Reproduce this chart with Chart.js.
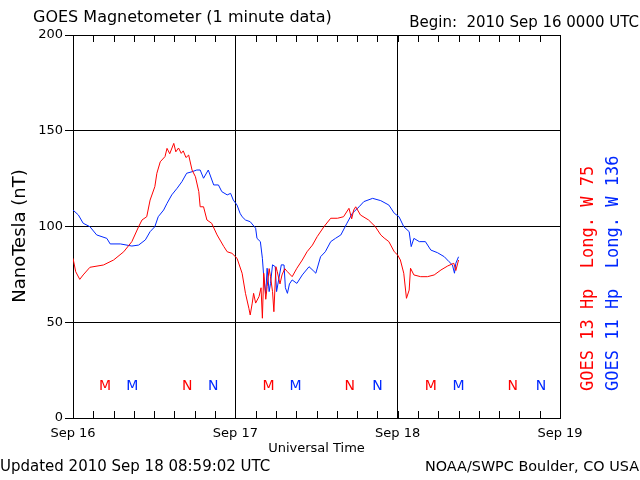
<!DOCTYPE html>
<html>
<head>
<meta charset="utf-8">
<title>GOES Magnetometer</title>
<script src="https://cdn.jsdelivr.net/npm/chart.js@4"></script>
<style>
  html, body { margin: 0; padding: 0; background: #fff; }
  #wrap { width: 640px; height: 480px; }
</style>
</head>
<body>
<div id="wrap"><canvas id="mag" width="640" height="480"></canvas></div>
<script>
// hours since 2010 Sep 16 0000 UTC
const dayLabels = ['Sep 16', 'Sep 17', 'Sep 18', 'Sep 19'];
const yTicks = [0, 50, 100, 150, 200];

const g13Hours = [0, 0.4, 1.0, 1.5, 2.5, 4.5, 6, 7.5, 8.7, 9.7, 10.2, 10.9, 11.4, 12.1, 12.4, 12.9, 13.6, 13.9, 14.3, 14.9,
  15.2, 15.6, 16.0, 16.3, 16.7, 17.1, 17.6, 18.1, 18.6, 18.8, 19.3, 19.8, 20.5, 21.3, 22.3, 22.8, 23.5, 24.25, 25, 25.5,
  26, 26.2, 26.5, 26.7, 27.0, 27.5, 27.8, 28.0, 28.2, 28.5, 28.7, 29.0, 29.2, 29.5, 29.7, 30.0, 30.2, 30.6, 30.9, 31.3,
  31.7, 32.4, 33.1, 33.9, 34.6, 35.4, 36.1, 37.1, 38.1, 39.1, 40, 40.8, 41.2, 41.5, 41.8, 42.5, 43.7, 44.7, 45.5, 46.0,
  46.7, 47.5, 48, 48.4, 48.9, 49.3, 49.7, 49.9, 50.4, 51.4, 52.4, 53.4, 54.4, 55.4, 56.3, 56.6, 57.0];
const g13Values = [83.4, 76.4, 72.4, 74.7, 78.7, 79.9, 82.5, 86.8, 92.1, 99.9, 103.4, 105.1, 113.8, 120.8, 127.8, 133.8, 136.5, 140.8, 138, 143.4,
  139, 141, 138.2, 139.5, 136, 137.3, 129.5, 126.0, 118.2, 110.3, 110.3, 103.4, 101.7, 95.6, 89.5, 86.8, 86.0, 83.4, 75.6, 65.1,
  57.3, 53.8, 60, 65.1, 60, 63.4, 68, 52.1, 75.6, 62, 68.6, 78, 73.8, 66, 55.5, 79, 76.4, 70, 74.7, 78,
  76.4, 73.8, 78.2, 82.5, 86.8, 90.3, 94.7, 99.9, 104.3, 104.3, 105.1, 109.5, 104, 108.6, 110.3, 106.0, 103.4, 99.9, 95.6, 94,
  92.1, 86.8, 85.1, 82.5, 75.6, 62.5, 66.8, 78.2, 74.7, 73.8, 73.8, 74.7, 77.3, 79.4, 80.8, 77, 82.5];

const g11Hours = [0, 0.8, 1.5, 2.5, 3.5, 5, 5.5, 7, 8.7, 9.7, 10.7, 11.4, 12.1, 12.6, 13.4, 13.9, 14.6, 15.4, 16.1, 16.8,
  17.6, 18.3, 18.8, 19.3, 20, 20.8, 21.5, 22, 22.8, 23.3, 23.7, 24.25, 24.7, 25, 25.5, 26.2, 27, 27.2, 27.7, 28,
  28.2, 28.5, 28.7, 29.0, 29.2, 29.5, 29.9, 30.1, 30.4, 30.8, 31.2, 31.4, 31.7, 32, 32.4, 33.1, 33.9, 34.9, 35.5, 35.9,
  36.6, 37.3, 38.1, 38.8, 39.6, 40.5, 41.3, 42.3, 43, 44.3, 45.5, 46.7, 47.5, 48.2, 48.9, 49.7, 50, 50.4, 51.2, 52.1,
  52.9, 53.9, 54.9, 55.6, 56.1, 56.4, 56.6, 57];
const g11Values = [108.6, 106, 101.7, 99.9, 95.6, 93.8, 90.9, 90.9, 89.8, 90.3, 93.0, 97.3, 99.9, 105.1, 108.6, 112.1, 116.5, 120, 123.4, 127.8,
  128.6, 129.5, 129.5, 125.2, 129.5, 121.7, 121.7, 118.2, 116.5, 117.3, 113.8, 111.2, 106.9, 105.1, 103.4, 102.5, 99.1, 93.8, 92.1, 83.4,
  73.8, 65, 78.2, 66, 70.3, 80, 79, 66, 72.1, 80, 79.9, 68, 65.1, 70, 72.1, 70.3, 74.7, 79, 77, 75.6,
  84.2, 86.8, 92.1, 93.8, 95.6, 101.7, 106.9, 110.3, 113, 114.7, 113.5, 111.2, 106.9, 105.1, 99.9, 97.3, 89.5, 93.8, 92.1, 92.1,
  87.7, 86.3, 84.2, 81.6, 79.9, 75.6, 80.8, 84.2];

// local midnight (M) and noon (N) markers
const markerHours = [4.75, 8.75, 16.9, 20.75, 28.9, 32.9, 40.9, 45.0, 52.9, 57.0, 65.0, 69.2];
const markerLabels = ['M', 'M', 'N', 'N', 'M', 'M', 'N', 'N', 'M', 'M', 'N', 'N'];
const markerSat = [13, 11, 13, 11, 13, 11, 13, 11, 13, 11, 13, 11];

const RED = '#ff0000';
const BLUE = '#0028ff';
const FONT = '"DejaVu Sans", sans-serif';
const MONO = '"DejaVu Sans Mono", monospace';

function toPoints(hours, values) {
    return hours.map((h, i) => ({ x: h, y: values[i] }));
}

const extras = {
    id: 'extras',
    afterDraw(chart) {
        const ctx = chart.ctx;
        const xs = chart.scales.x;
        const ys = chart.scales.y;
        const area = chart.chartArea;
        ctx.save();

        // 3-hour minor ticks, inward on top and bottom
        ctx.strokeStyle = '#000';
        ctx.lineWidth = 1;
        for (let h = 3; h < 72; h += 3) {
            const px = Math.round(xs.getPixelForValue(h)) + 0.5;
            ctx.beginPath();
            ctx.moveTo(px, area.top);
            ctx.lineTo(px, area.top + 7);
            ctx.moveTo(px, area.bottom);
            ctx.lineTo(px, area.bottom - 7);
            ctx.stroke();
        }

        // M / N markers
        ctx.font = '14px ' + FONT;
        ctx.textAlign = 'center';
        ctx.textBaseline = 'middle';
        markerHours.forEach((h, i) => {
            ctx.fillStyle = markerSat[i] === 13 ? RED : BLUE;
            ctx.fillText(markerLabels[i], xs.getPixelForValue(h), ys.getPixelForValue(16.5));
        });

        // titles and footers
        ctx.fillStyle = '#000';
        ctx.textAlign = 'left';
        ctx.font = '16px ' + FONT;
        ctx.fillText('GOES Magnetometer (1 minute data)', 33, 18);
        ctx.font = '15px ' + FONT;
        ctx.textAlign = 'right';
        ctx.fillText('Begin:  2010 Sep 16 0000 UTC', 639, 23);
        ctx.textAlign = 'left';
        ctx.fillText('Updated 2010 Sep 18 08:59:02 UTC', 0, 467);
        ctx.font = '14.4px ' + FONT;
        ctx.textAlign = 'right';
        ctx.fillText('NOAA/SWPC Boulder, CO USA', 639, 467);
        ctx.textAlign = 'center';
        ctx.font = '13px ' + FONT;
        ctx.fillText('Universal Time', (area.left + area.right) / 2, 449);

        // rotated labels
        ctx.font = '18px ' + FONT;
        ctx.save();
        ctx.translate(20, 236);
        ctx.rotate(-Math.PI / 2);
        ctx.textAlign = 'center';
        ctx.fillText('NanoTesla (nT)', 0, 0);
        ctx.restore();

        ctx.font = '17px ' + MONO;
        ctx.save();
        ctx.translate(589, 391);
        ctx.rotate(-Math.PI / 2);
        ctx.textAlign = 'left';
        ctx.fillStyle = RED;
        ctx.fillText('GOES 13 Hp  Long. W 75', 0, 0);
        ctx.restore();

        ctx.save();
        ctx.translate(614, 391);
        ctx.rotate(-Math.PI / 2);
        ctx.textAlign = 'left';
        ctx.fillStyle = BLUE;
        ctx.fillText('GOES 11 Hp  Long. W 136', 0, 0);
        ctx.restore();

        ctx.restore();
    }
};

new Chart(document.getElementById('mag'), {
    type: 'line',
    data: {
        datasets: [
            {
                label: 'GOES 13',
                data: toPoints(g13Hours, g13Values),
                borderColor: RED,
                borderWidth: 1,
                pointRadius: 0,
                tension: 0
            },
            {
                label: 'GOES 11',
                data: toPoints(g11Hours, g11Values),
                borderColor: BLUE,
                borderWidth: 1,
                pointRadius: 0,
                tension: 0
            }
        ]
    },
    options: {
        responsive: false,
        animation: false,
        events: [],
        layout: { padding: { left: 0, right: 80, top: 35, bottom: 0 } },
        plugins: {
            legend: { display: false },
            tooltip: { enabled: false }
        },
        scales: {
            x: {
                type: 'linear',
                min: 0,
                max: 72,
                afterFit(scale) { scale.height = 62; },
                afterBuildTicks(scale) {
                    scale.ticks = dayLabels.map((d, i) => ({ value: i * 24 }));
                },
                ticks: {
                    autoSkip: false,
                    maxRotation: 0,
                    padding: 8,
                    color: '#000',
                    font: { family: 'DejaVu Sans', size: 13 },
                    callback: (v) => dayLabels[v / 24]
                },
                grid: { color: '#000', drawTicks: false, lineWidth: 1 },
                border: { display: true, color: '#000' }
            },
            y: {
                min: 0,
                max: 200,
                afterFit(scale) { scale.width = 73; },
                afterBuildTicks(scale) {
                    scale.ticks = yTicks.map(v => ({ value: v }));
                },
                ticks: {
                    padding: 2,
                    color: '#000',
                    font: { family: 'DejaVu Sans', size: 13 }
                },
                grid: { color: '#000', tickLength: 8, lineWidth: 1 },
                border: { display: true, color: '#000' }
            }
        }
    },
    plugins: [extras]
});
</script>
</body>
</html>
